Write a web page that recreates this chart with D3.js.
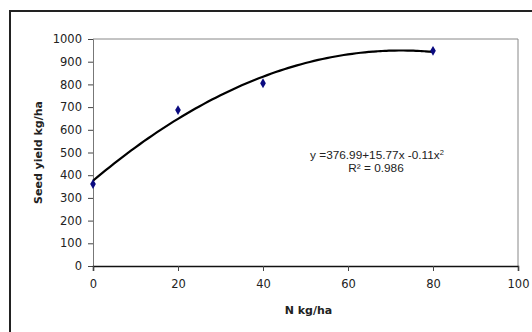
<!DOCTYPE html>
<html>
<head>
<meta charset="utf-8">
<script src="https://cdn.jsdelivr.net/npm/d3@7"></script>
<style>
  body { margin: 0; background: #fff; }
  svg { display: block; font-family: "DejaVu Sans", sans-serif; }
</style>
</head>
<body>
<svg id="chart" width="532" height="332"></svg>
<script>
// data
const nRates = [0, 20, 40, 80];
const seedYield = [361, 687, 805, 948];
const xTicks = [0, 20, 40, 60, 80, 100];
const yTicks = [0, 100, 200, 300, 400, 500, 600, 700, 800, 900, 1000];
const eqText = "y =376.99+15.77x -0.11x";
const r2Text = "R\u00b2 = 0.986";

const svg = d3.select("#chart");
const margin = { left: 93, top: 39, right: 14, bottom: 66 };
const W = 532, H = 332;

const x = d3.scaleLinear().domain([0, 100]).range([margin.left, W - margin.right]);
const y = d3.scaleLinear().domain([0, 1000]).range([H - margin.bottom, margin.top]);

// outer chart border (runs off the right and bottom)
svg.append("rect")
    .attr("x", 10).attr("y", 11)
    .attr("width", 560).attr("height", 360)
    .attr("fill", "none")
    .attr("stroke", "#222")
    .attr("stroke-width", 2);

// plot frame, top and right
svg.append("path")
    .attr("d", `M${x(0)},${y(1000)}H${x(100)}V${y(0)}`)
    .attr("fill", "none")
    .attr("stroke", "#888")
    .attr("stroke-width", 1);

// axes
const yAxis = svg.append("g")
    .attr("transform", `translate(${x(0)},0)`)
    .call(d3.axisLeft(y).tickValues(yTicks).tickFormat(d3.format("d")).tickSize(5).tickPadding(6));
yAxis.select(".domain").attr("stroke", "#777");
yAxis.selectAll(".tick line").attr("stroke", "#444");

const xAxis = svg.append("g")
    .attr("transform", `translate(0,${y(0)})`)
    .call(d3.axisBottom(x).tickValues(xTicks).tickFormat(d3.format("d")).tickSize(5).tickPadding(9));
xAxis.select(".domain").attr("stroke", "#111").attr("stroke-width", 1.5);
xAxis.selectAll(".tick line").attr("stroke", "#444");

svg.selectAll(".tick text")
    .attr("font-family", "DejaVu Sans, sans-serif")
    .attr("font-size", 11.5)
    .attr("fill", "#222");

// axis titles
svg.append("text")
    .attr("transform", `translate(42,${(y(0) + y(1000)) / 2}) rotate(-90)`)
    .attr("text-anchor", "middle")
    .attr("font-size", 11)
    .attr("font-weight", "bold")
    .attr("fill", "#222")
    .text("Seed yield kg/ha");

svg.append("text")
    .attr("x", (x(0) + x(100)) / 2 + 3)
    .attr("y", 314)
    .attr("text-anchor", "middle")
    .attr("font-size", 11)
    .attr("font-weight", "bold")
    .attr("fill", "#222")
    .text("N kg/ha");

// quadratic least-squares trend of the points
function quadFit(xs, ys) {
    const s = k => d3.sum(xs, v => Math.pow(v, k));
    const t = k => d3.sum(xs, (v, i) => Math.pow(v, k) * ys[i]);
    const A = [[s(0), s(1), s(2)], [s(1), s(2), s(3)], [s(2), s(3), s(4)]];
    const b = [t(0), t(1), t(2)];
    // gaussian elimination
    for (let i = 0; i < 3; i++) {
        for (let j = i + 1; j < 3; j++) {
            const f = A[j][i] / A[i][i];
            for (let k = i; k < 3; k++) A[j][k] -= f * A[i][k];
            b[j] -= f * b[i];
        }
    }
    const c = [0, 0, 0];
    for (let i = 2; i >= 0; i--) {
        let v = b[i];
        for (let k = i + 1; k < 3; k++) v -= A[i][k] * c[k];
        c[i] = v / A[i][i];
    }
    return c;
}
const coef = quadFit(nRates, seedYield);
const trendX = d3.range(0, 80.5, 1);
const line = d3.line()
    .x(d => x(d))
    .y(d => y(coef[0] + coef[1] * d + coef[2] * d * d))
    .curve(d3.curveMonotoneX);

svg.append("path")
    .datum(trendX)
    .attr("d", line)
    .attr("fill", "none")
    .attr("stroke", "#000")
    .attr("stroke-width", 2.2);

// markers
svg.selectAll(".pt")
    .data(nRates.map((n, i) => [n, seedYield[i]]))
    .join("path")
    .attr("class", "pt")
    .attr("transform", d => `translate(${x(d[0])},${y(d[1])})`)
    .attr("d", d3.symbol(d3.symbolDiamond, 28))
    .attr("fill", "#0a0a80");

// equation label
const eq = svg.append("text")
    .attr("x", 377)
    .attr("y", 159)
    .attr("text-anchor", "middle")
    .attr("font-family", "Liberation Sans, Arial, sans-serif")
    .attr("font-size", 11.8)
    .attr("fill", "#222");
eq.append("tspan").text(eqText);
eq.append("tspan").attr("dy", -4).attr("font-size", 7.5).text("2");

svg.append("text")
    .attr("x", 376)
    .attr("y", 172)
    .attr("text-anchor", "middle")
    .attr("font-family", "Liberation Sans, Arial, sans-serif")
    .attr("font-size", 11.8)
    .attr("fill", "#222")
    .text(r2Text);
</script>
</body>
</html>
